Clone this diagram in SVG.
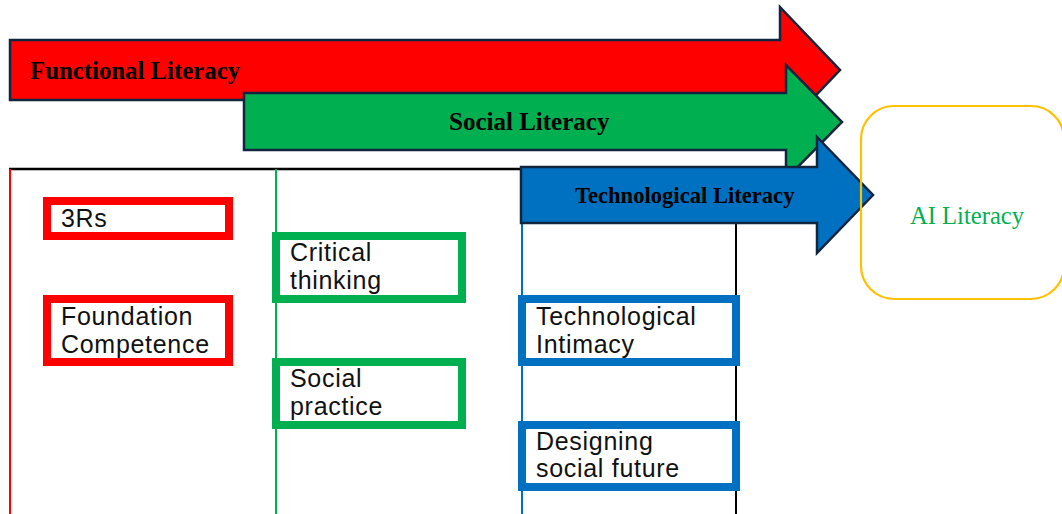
<svg xmlns="http://www.w3.org/2000/svg" width="1062" height="514" viewBox="0 0 1062 514">
  <style>
    .arrow { stroke: #10253f; stroke-width: 2.5; stroke-linejoin: miter; }
    .lbl { font-family: "Liberation Serif", "Times New Roman", serif; font-weight: bold; fill: #000; }
    .box { fill: #fff; stroke-width: 8; }
    .txt { font-family: "Liberation Sans", Arial, sans-serif; font-size: 25px; letter-spacing: 0.7px; fill: #111; }
    .red { stroke: #ff0000; }
    .grn { stroke: #00b050; }
    .blu { stroke: #0070c0; }
  </style>
  <rect width="1062" height="514" fill="#fff"/>

  <!-- column frame lines -->
  <g id="frame" fill="none">
    <line x1="9" y1="169" x2="522" y2="169" stroke="#000" stroke-width="2.5"/>
    <line x1="10" y1="169" x2="10" y2="514" stroke="#ff0000" stroke-width="2"/>
    <line x1="276" y1="169" x2="276" y2="514" stroke="#00b050" stroke-width="2"/>
    <line x1="522" y1="220" x2="522" y2="514" stroke="#0070c0" stroke-width="2"/>
    <line x1="736" y1="220" x2="736" y2="514" stroke="#000" stroke-width="2"/>
  </g>

  <!-- literacy arrows -->
  <g id="connectors">
    <g id="functional-literacy">
      <polygon class="arrow" fill="#ff0000" points="10,40 780,40 780,7 840,70 780,133 780,100 10,100"/>
      <text class="lbl" x="30" y="79" font-size="24.8">Functional Literacy</text>
    </g>
    <g id="social-literacy">
      <polygon class="arrow" fill="#00b050" points="244,93 786,93 786,65 842,122 786,179 786,150 244,150"/>
      <text class="lbl" x="449" y="130" font-size="25">Social Literacy</text>
    </g>
    <g id="technological-literacy">
      <polygon class="arrow" fill="#0070c0" points="521,167 817,167 817,137 873,195 817,253 817,223 521,223"/>
      <text class="lbl" x="575" y="203" font-size="22.6">Technological Literacy</text>
    </g>
  </g>

  <!-- target -->
  <g id="ai-literacy">
    <rect x="861" y="106" width="203" height="193" rx="33" fill="none" stroke="#ffc000" stroke-width="2.2"/>
    <text x="967" y="224" text-anchor="middle" font-family="Liberation Serif, Times New Roman, serif" font-size="24.6" fill="#00b050">AI Literacy</text>
  </g>

  <!-- functional literacy components -->
  <g id="node-3rs">
    <rect class="box red" x="47" y="201" width="182" height="35"/>
    <text class="txt" x="61" y="227">3Rs</text>
  </g>
  <g id="node-foundation">
    <rect class="box red" x="47" y="299" width="182" height="63"/>
    <text class="txt" x="61" y="325">Foundation</text>
    <text class="txt" x="61" y="353">Competence</text>
  </g>

  <!-- social literacy components -->
  <g id="node-critical">
    <rect class="box grn" x="276" y="236" width="186" height="63"/>
    <text class="txt" x="290" y="261">Critical</text>
    <text class="txt" x="290" y="289">thinking</text>
  </g>
  <g id="node-social-practice">
    <rect class="box grn" x="276" y="362" width="186" height="63"/>
    <text class="txt" x="290" y="387">Social</text>
    <text class="txt" x="290" y="415">practice</text>
  </g>

  <!-- technological literacy components -->
  <g id="node-intimacy">
    <rect class="box blu" x="522" y="299" width="214" height="63"/>
    <text class="txt" x="536" y="325">Technological</text>
    <text class="txt" x="536" y="353">Intimacy</text>
  </g>
  <g id="node-designing">
    <rect class="box blu" x="522" y="425" width="214" height="62"/>
    <text class="txt" x="536" y="450">Designing</text>
    <text class="txt" x="536" y="477">social future</text>
  </g>
</svg>
